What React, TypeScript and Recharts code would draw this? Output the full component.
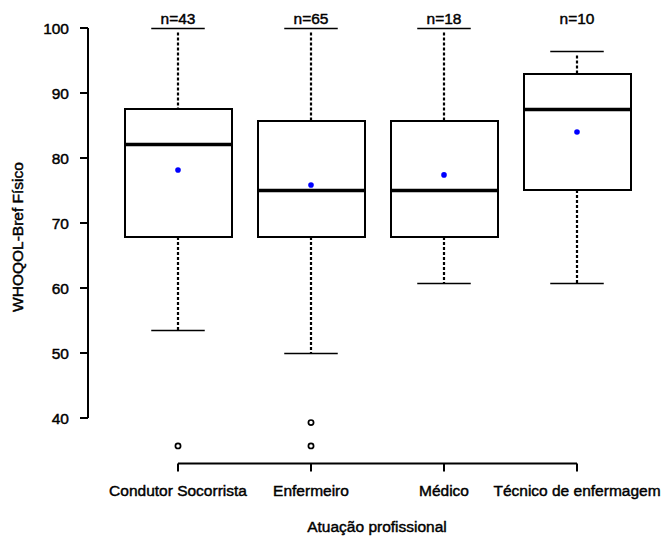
import React from "react";
import { ComposedChart, Bar, Scatter, XAxis, YAxis, ReferenceLine, Label } from "recharts";

const categories = ["Condutor Socorrista", "Enfermeiro", "Médico", "Técnico de enfermagem"];
const counts = [43, 65, 18, 10];
const whiskerLow = [53.57, 50.0, 60.71, 60.71];
const q1 = [67.86, 67.86, 67.86, 75.0];
const medians = [82.14, 75.0, 75.0, 87.5];
const q3 = [87.5, 85.71, 85.71, 92.86];
const whiskerHigh = [100, 100, 100, 96.43];
const means = [78.15, 75.85, 77.4, 84.0];
const outliersA = [35.71, 35.71, null, null];
const outliersB = [null, 39.29, null, null];
const yTicks = [40, 50, 60, 70, 80, 90, 100];

const FONT = '"Liberation Sans", Arial, Helvetica, sans-serif';
const FS = 15.5;
const TXT = { fill: "#000", fontSize: FS, fontFamily: FONT, stroke: "#000", strokeWidth: 0.45 };

const data = categories.map((cat, i) => ({
  cat,
  box: [q1[i], q3[i]],
  lo: whiskerLow[i],
  hi: whiskerHigh[i],
  med: medians[i],
  mean: means[i],
  n: counts[i],
  outA: outliersA[i],
  outB: outliersB[i],
}));

function BoxShape(props: any) {
  const { x, y, width, height, payload } = props;
  if (!payload) return null;
  const [b0, b1] = payload.box;
  const top = Math.min(y, y + height);
  const h = Math.abs(height);
  // map value -> pixel using the bar's own geometry (q1..q3)
  const toY = (v: number) => top + ((b1 - v) / (b1 - b0)) * h;
  const cx = Math.round(x + width / 2);
  const left = Math.round(x);
  const right = Math.round(x + width);
  const capHalf = width / 4;
  const yHi = Math.round(toY(payload.hi)) + 0.5;
  const yLo = Math.round(toY(payload.lo)) + 0.5;
  const yTop = Math.round(top);
  const yBot = Math.round(top + h);
  return (
    <g>
      <line x1={cx} x2={cx} y1={yHi + 4} y2={yTop} stroke="#000" strokeWidth={2.2} strokeDasharray="3 2" />
      <line x1={cx} x2={cx} y1={yBot} y2={yLo} stroke="#000" strokeWidth={2.2} strokeDasharray="3 2" />
      <line x1={cx - capHalf} x2={cx + capHalf} y1={yHi} y2={yHi} stroke="#000" strokeWidth={1.3} />
      <line x1={cx - capHalf} x2={cx + capHalf} y1={yLo} y2={yLo} stroke="#000" strokeWidth={1.3} />
      <rect x={left} y={yTop} width={right - left} height={yBot - yTop} fill="#fff" stroke="#000" strokeWidth={2} />
      <line x1={left} x2={right} y1={Math.round(toY(payload.med)) + 0.5} y2={Math.round(toY(payload.med)) + 0.5} stroke="#000" strokeWidth={3.5} />
      <text x={cx} y={toY(101.5)} dy="0.36em" textAnchor="middle" {...TXT}>
        {`n=${payload.n}`}
      </text>
    </g>
  );
}

const MeanDot = (p: any) =>
  Number.isFinite(p.cy) ? <circle cx={p.cx} cy={p.cy} r={2.8} fill="#0000ff" /> : <g />;

const OutlierDot = (key: string) => (p: any) =>
  p.payload && p.payload[key] != null && Number.isFinite(p.cy) ? (
    <circle cx={p.cx} cy={p.cy} r={2.6} fill="none" stroke="#000" strokeWidth={1.7} />
  ) : (
    <g />
  );

export default function App() {
  return (
    <div style={{ position: "absolute", left: 0, top: 0, background: "#fff" }}>
      <ComposedChart
        width={665}
        height={540}
        data={data}
        margin={{ top: 11.1, right: 21.5, bottom: 46.5, left: 28 }}
      >
        <XAxis
          dataKey="cat"
          type="category"
          height={30}
          padding={{ left: 23.5, right: 0 }}
          axisLine={false}
          tickLine={{ stroke: "#000", strokeWidth: 2 }}
          tickSize={8}
          tickMargin={13}
          interval={0}
          tick={TXT}
        >
          <Label
            content={() => (
              <text x={377} y={526} dy="0.36em" textAnchor="middle" {...TXT}>
                Atuação profissional
              </text>
            )}
          />
        </XAxis>
        <XAxis xAxisId="n" type="number" domain={[0, 1]} hide />
        <YAxis
          type="number"
          domain={[33, 102.6]}
          ticks={yTicks}
          width={60}
          axisLine={false}
          tickLine={{ stroke: "#000", strokeWidth: 2 }}
          tickSize={8}
          tickMargin={11}
          tick={TXT}
        >
          <Label
            content={() => (
              <text
                x={17.5}
                y={237}
                dy="0.36em"
                textAnchor="middle"
                transform="rotate(-90 17.5 237)"
                {...TXT}
              >
                WHOQOL-Bref Físico
              </text>
            )}
          />
        </YAxis>
        <ReferenceLine
          xAxisId="n"
          segment={[
            { x: 0, y: 40 },
            { x: 0, y: 100 },
          ]}
          stroke="#000"
          strokeWidth={2}
        />
        <ReferenceLine
          segment={[
            { x: categories[0], y: 33 },
            { x: categories[categories.length - 1], y: 33 },
          ]}
          stroke="#000"
          strokeWidth={2}
        />
        <Bar dataKey="box" barSize={107} shape={<BoxShape />} isAnimationActive={false} />
        <Scatter dataKey="mean" shape={MeanDot} isAnimationActive={false} />
        <Scatter dataKey="outA" shape={OutlierDot("outA")} isAnimationActive={false} />
        <Scatter dataKey="outB" shape={OutlierDot("outB")} isAnimationActive={false} />
      </ComposedChart>
    </div>
  );
}
